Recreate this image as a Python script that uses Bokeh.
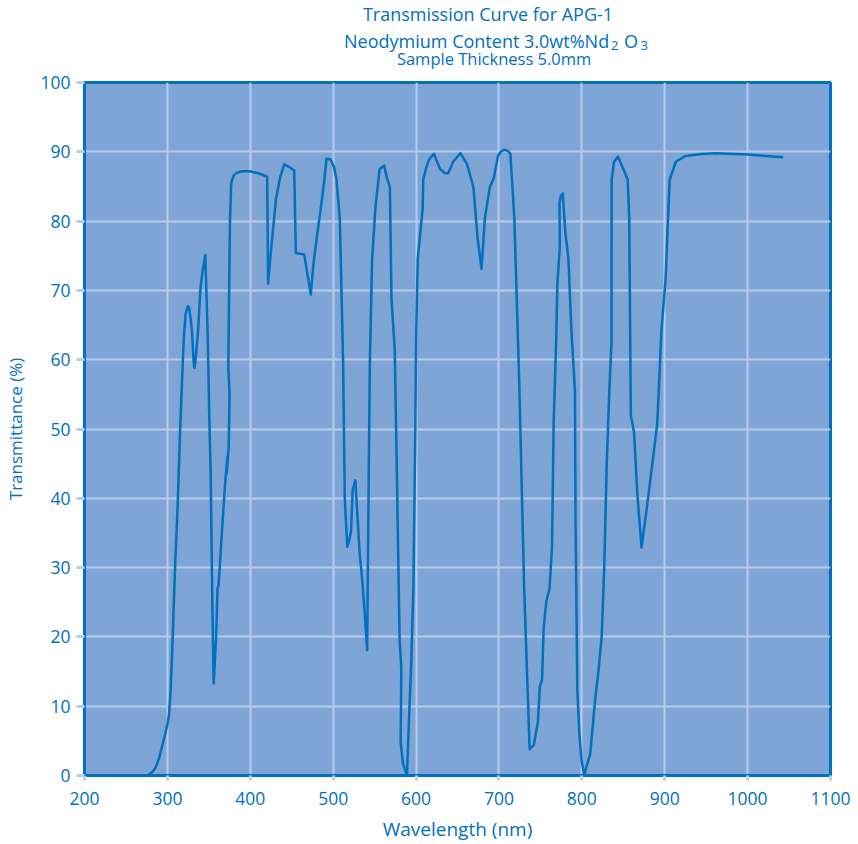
from bokeh.plotting import figure
from bokeh.models import Range1d, FixedTicker
from bokeh.layouts import column
from bokeh.core.properties import value
from bokeh.embed import file_html
from bokeh.resources import INLINE

# ---- data ----
wavelength = [276, 282, 286, 290, 294, 298, 300, 302, 304, 306.4, 309, 312.4, 315, 318, 320, 322,
              324.5, 326, 328, 329.6, 331.5, 332.7, 334, 337, 340, 342.6, 345.7, 348.7, 350.5,
              352.2, 354.3, 355.8, 357.5, 358.7, 360.5, 361.7, 366, 370, 372.5, 371.5, 374, 375,
              373.5, 374.5, 375.5, 377, 380, 384, 390, 399, 410, 420.4, 421.5, 426, 431, 436, 441,
              447, 453, 455, 460, 465, 469, 473, 476, 480, 484.7, 489, 492, 497, 501, 504, 508,
              510, 512, 514, 516, 517, 519, 521.6, 523.5, 526.7, 528.6, 532, 535, 538, 541, 543,
              544.3, 547, 551, 556, 561.6, 565, 568.4, 570.4, 574.3, 576.5, 578.3, 580.2, 582.2,
              581.4, 584.2, 589, 592, 594, 596.8, 599.2, 600, 602, 608, 608.7, 612, 615.7, 621.6,
              629, 635, 638.7, 645, 653.4, 661.3, 669.2, 674.3, 679, 683, 689, 694, 698.8, 702,
              706.7, 711, 713.8, 718.6, 724.5, 730.4, 737, 742, 747, 749.4, 752, 754, 757, 761,
              764, 766, 769, 770.5, 773.5, 773, 774.5, 777, 780, 783.8, 787.5, 791.7, 792.5,
              794.5, 797, 799.6, 803, 806, 810, 816, 820, 824, 827, 830, 833, 835.8, 836, 838.9,
              843.6, 849.4, 855.3, 857.2, 859.1, 863, 867, 872, 878.6, 886.4, 891, 896, 901, 904,
              906, 913.6, 925.3, 944.7, 961, 1001, 1043]
transmittance = [0, 0.5, 1.2, 2.5, 4.4, 6.3, 7.4, 8.8, 12.4, 19.9, 29.3, 39, 48.5, 58, 63.5, 66.6,
                 67.7, 67.6, 66, 64.2, 60, 58.8, 60, 64.1, 70.5, 72.9, 75.1, 63.2, 52,
                 43.7, 24.4, 13.3, 17, 19.8, 27, 27.4, 35.5, 42.8, 46, 43.5, 47.5, 55,
                 59, 70, 80, 85.5, 86.6, 87, 87.2, 87.2, 86.9, 86.4, 71, 77, 83.2, 86.3, 88.2,
                 87.8, 87.3, 75.4, 75.3, 75.2, 72.3, 69.4, 73.6, 77.4, 81.5, 85.6, 89, 88.9, 87.8, 86, 80.4,
                 70, 59.6, 40, 35.3, 33, 33.7, 35.3, 41.2, 42.6, 38.8, 32, 28.3, 23.5, 18.1, 44.8,
                 59.6, 74.5, 82, 87.5, 88, 86.2, 84.9, 68.7, 61.4, 46.3, 32.9, 19.5, 15.5,
                 4.8, 1.7, 0, 9.7, 15.5, 27.1, 50.8, 62.6, 74.5, 81.8, 86, 87.6, 88.9, 89.7,
                 87.5, 86.9, 86.9, 88.6, 89.8, 88.3, 84.9, 77.5, 73.1, 80.4, 84.9, 86.3, 89.4, 90,
                 90.3, 90.1, 89.7, 80.4, 56.6, 27.1, 3.8, 4.4, 7.7, 12.9, 13.8, 21.3, 25, 27,
                 32.9, 50.8, 62.6, 71, 76.3, 82.6, 83.6, 84, 78.5, 74.6, 64, 55.4, 35.9,
                 12.5, 6, 2.2, 0, 1.5, 3, 10.9, 15, 20.1, 30, 44.8, 55, 62.6, 86, 88.6,
                 89.3, 87.7, 86, 80.4, 52, 49.5, 40.6, 32.9, 38.8, 46.3, 50.8, 64.1, 71.6, 80.4,
                 86, 88.6, 89.4, 89.7, 89.8, 89.6, 89.2]

x_ticks = [200, 300, 400, 500, 600, 700, 800, 900, 1000, 1100]
y_ticks = [0, 10, 20, 30, 40, 50, 60, 70, 80, 90, 100]

title_1 = "Transmission Curve for APG-1"
title_2 = "Neodymium Content 3.0wt%Nd"
title_2_sub_a = "2"
title_2_o = "O"
title_2_sub_b = "3"
title_3 = "Sample Thickness 5.0mm"
x_label = "Wavelength (nm)"
y_label = "Transmittance (%)"

BLUE = "#0070c0"
GRID = "#bccbe8"
FONT = "Open Sans"
W = 856
TITLE_H = 70
DX, DY = 27, 6   # observed offset of the title strip's drawing area

# ---- title strip (pixel coordinates, y downward) ----
t = figure(width=W, height=TITLE_H, output_backend="svg", toolbar_location=None,
           x_range=Range1d(0, W), y_range=Range1d(TITLE_H, 0),
           x_axis_location=None, y_axis_location=None,
           min_border_left=0, min_border_right=0, min_border_top=0, min_border_bottom=0)
t.outline_line_color = None
t.grid.visible = False
t.background_fill_color = "white"
t.border_fill_color = "white"

def put(x, y, s, align, size):
    t.text(x=[x - DX], y=[y - DY], text=[s], text_align=align, text_baseline="alphabetic",
           text_color=BLUE, text_font=value(FONT), text_font_size=size)

put(490, 19, title_1, "center", "18px")
put(629, 46, title_2, "right", "18px")
put(631, 51, title_2_sub_a, "left", "13px")
put(646, 46, title_2_o, "left", "18px")
put(665, 51, title_2_sub_b, "left", "13px")
put(497, 64, title_3, "center", "16.5px")

# ---- main chart ----
p = figure(width=W, height=774, output_backend="svg", toolbar_location=None,
           x_range=Range1d(200, 1100), y_range=Range1d(0, 100),
           min_border_left=84, min_border_right=26, min_border_top=12, min_border_bottom=69)

p.background_fill_color = "#7fa4d6"
p.border_fill_color = "white"
p.outline_line_color = BLUE
p.outline_line_width = 3

p.line(wavelength, transmittance, line_color=BLUE, line_width=2.5, line_join="round")

for ax in (p.xaxis[0], p.yaxis[0]):
    ax.axis_line_color = BLUE
    ax.axis_line_width = 3
    ax.major_tick_line_color = GRID
    ax.major_tick_line_width = 3
    ax.major_tick_in = 0
    ax.minor_tick_line_color = None
    ax.major_label_text_color = BLUE
    ax.major_label_text_font = FONT
    ax.major_label_text_font_size = "17.5px"
    ax.axis_label_text_color = BLUE
    ax.axis_label_text_font = FONT
    ax.axis_label_text_font_style = "normal"

p.xaxis.ticker = FixedTicker(ticks=x_ticks)
p.yaxis.ticker = FixedTicker(ticks=y_ticks)
p.xaxis.major_tick_out = 5
p.yaxis.major_tick_out = 8
p.xaxis.major_label_standoff = 11
p.yaxis.major_label_standoff = 6
p.xaxis.axis_label = x_label
p.yaxis.axis_label = y_label
p.xaxis.axis_label_text_font_size = "19px"
p.yaxis.axis_label_text_font_size = "17px"
p.xaxis.axis_label_standoff = 8
p.yaxis.axis_label_standoff = 10

p.xgrid.ticker = FixedTicker(ticks=x_ticks)
p.ygrid.ticker = FixedTicker(ticks=y_ticks)
p.grid.grid_line_color = GRID
p.grid.grid_line_width = 2

layout = column(t, p)
open("out.html", "w").write(file_html(layout, INLINE))
